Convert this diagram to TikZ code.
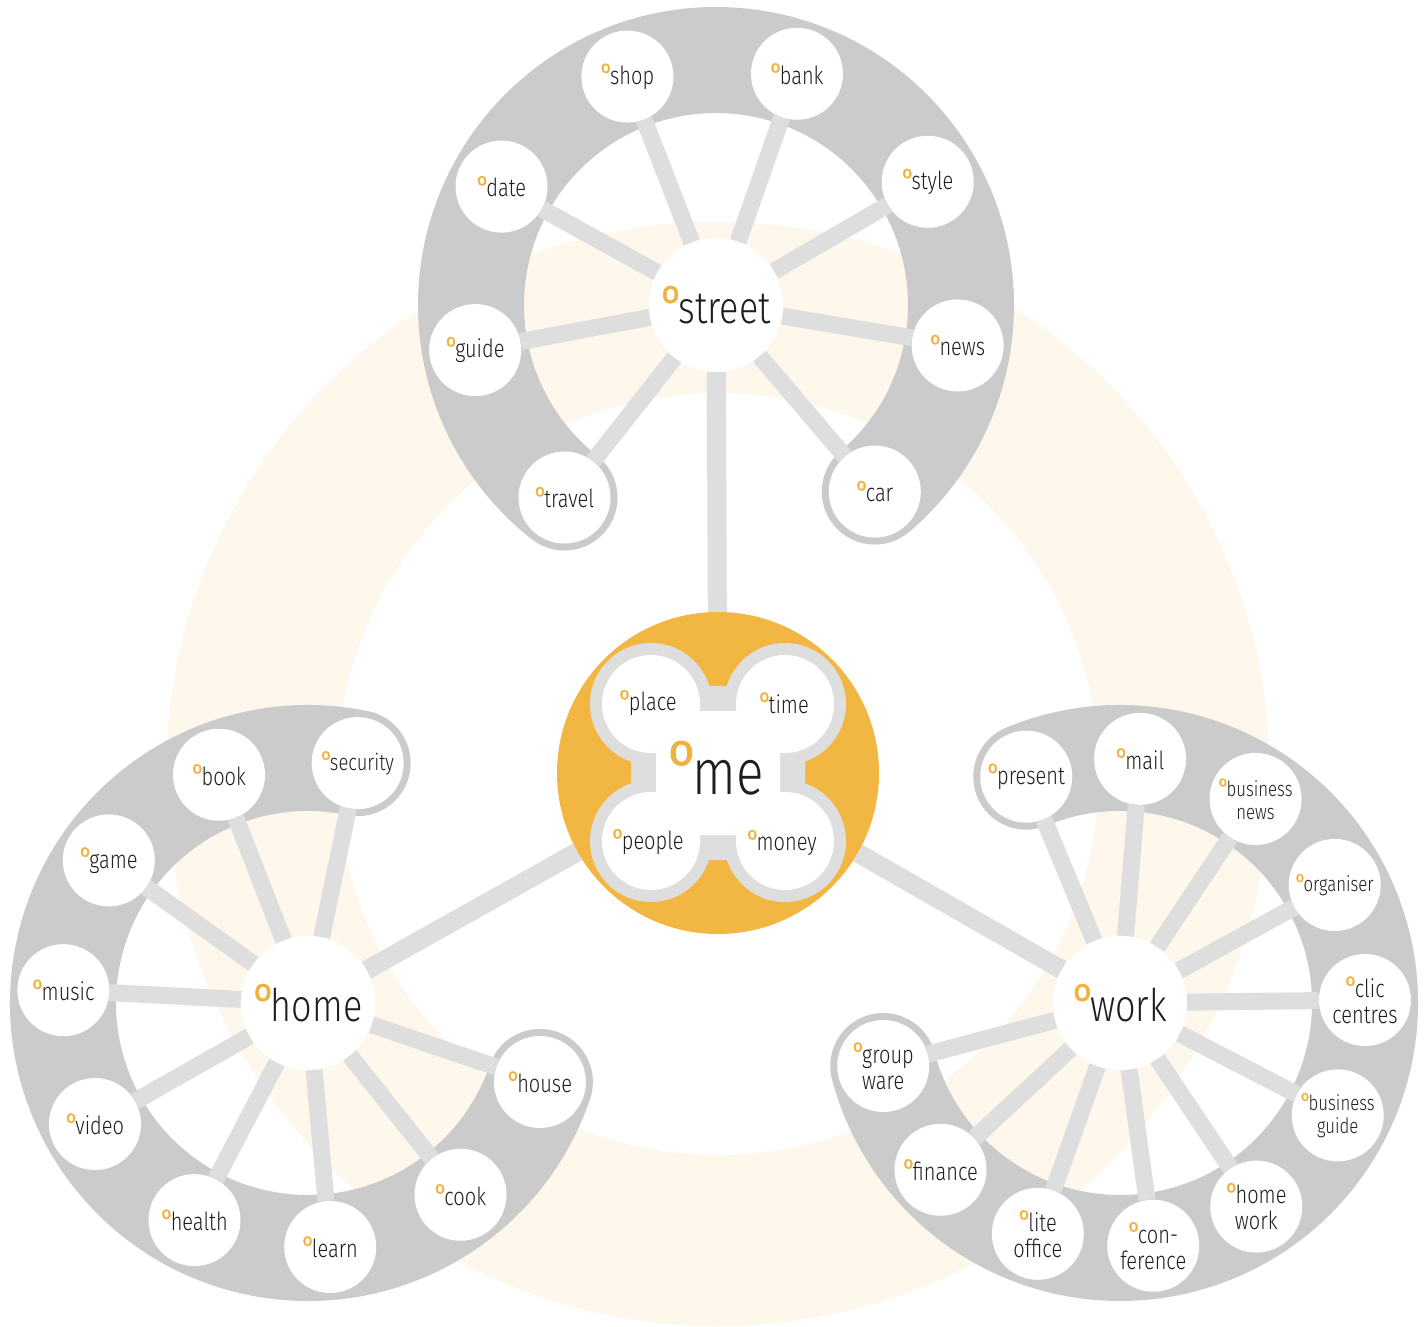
\documentclass[tikz,border=0pt]{standalone}
\usepackage{fontspec}
\usepackage{graphicx}
\setmainfont{Fira Sans Light}[FakeStretch=0.8]
\newfontfamily\ofont{Fira Sans}[FakeBold=1.5]
\definecolor{bandgray}{HTML}{CBCBCB}
\definecolor{spk}{HTML}{DEDEDE}
\definecolor{cream}{HTML}{FEF7EC}
\definecolor{orng}{HTML}{F2B643}
\definecolor{oc}{HTML}{F0B13D}
\definecolor{txt}{HTML}{1E1E1E}
\newcommand\mk{{\ofont\color{oc}\raisebox{0.46em}{\scalebox{0.7}{o}}}\kern-0.03em}
\tikzset{
  leaf/.style={circle, fill=white, minimum size=92pt, inner sep=0pt, align=center, text=txt,
    font=\fontsize{25}{26}\selectfont},
  smallleaf/.style={leaf, font=\fontsize{21}{23}\selectfont},
  hubnode/.style={circle, fill=white, minimum size=134pt, inner sep=0pt, text=txt,
    font=\fontsize{45}{45}\selectfont},
  spoke/.style={line width=17pt, draw=spk},
  melink/.style={line width=19pt, draw=spk},
  band/.style={line width=106pt, draw=bandgray, line cap=round},
  lobetext/.style={text=txt, font=\fontsize{25}{26}\selectfont},
}
\begin{document}
\begin{tikzpicture}[x=1pt,y=1pt]
\useasboundingbox (0,0) rectangle (1428,-1327);
\fill[white] (0,0) rectangle (1428,-1327);
% cream ring
\fill[cream, even odd rule] (718,-774) circle[radius=552] (718,-774) circle[radius=381];
% hubs
\coordinate (S) at (716,-305);
\coordinate (H) at (308,-1003);
\coordinate (W) at (1120,-1003);
\coordinate (M) at (718,-773);
% bands
\draw[band] ([shift={(-49.6:245)}]S) arc[start angle=-49.6, end angle=231.8, radius=245];
\draw[band] ([shift={(78.3:245)}]H) arc[start angle=78.3, end angle=341.2, radius=245];
\draw[band] ([shift={(112.5:245)}]W) arc[start angle=112.5, end angle=-165.1, radius=245];
% hub nodes
\node[hubnode] (street) at (S) {\mk street};
\node[hubnode] (home) at (H) {\mk home};
\node[hubnode] (work) at (W) {\mk work};
\node[circle, fill=orng, minimum size=322pt, inner sep=0pt] (me) at (M) {};
% street leaves
\node[leaf] (car) at ([shift={(-49.6:245)}]S) {\mk car};
\node[leaf] (news) at ([shift={(-9.5:245)}]S) {\mk news};
\node[leaf] (style) at ([shift={(30.2:245)}]S) {\mk style};
\node[leaf] (bank) at ([shift={(70.7:245)}]S) {\mk bank};
\node[leaf] (shop) at ([shift={(111.2:245)}]S) {\mk shop};
\node[leaf] (date) at ([shift={(151.1:245)}]S) {\mk date};
\node[leaf] (guide) at ([shift={(190.6:245)}]S) {\mk guide};
\node[leaf] (travel) at ([shift={(231.8:245)}]S) {\mk travel};
% home leaves
\node[leaf, font=\fontsize{23}{24}\selectfont] (security) at ([shift={(78.3:245)}]H) {\mk security};
\node[leaf] (book) at ([shift={(111.3:245)}]H) {\mk book};
\node[leaf] (game) at ([shift={(144.4:245)}]H) {\mk game};
\node[leaf] (music) at ([shift={(177:245)}]H) {\mk music};
\node[leaf] (video) at ([shift={(209.6:245)}]H) {\mk video};
\node[leaf] (health) at ([shift={(242.4:245)}]H) {\mk health};
\node[leaf] (learn) at ([shift={(275.2:245)}]H) {\mk learn};
\node[leaf] (cook) at ([shift={(308.5:245)}]H) {\mk cook};
\node[leaf] (house) at ([shift={(341.2:245)}]H) {\mk house};
% work leaves
\node[leaf] (present) at ([shift={(112.5:245)}]W) {\mk present};
\node[leaf] (mail) at ([shift={(85.3:245)}]W) {\mk mail};
\node[smallleaf] (bnews) at ([shift={(56.4:245)}]W) {\mk business\\news};
\node[smallleaf] (organiser) at ([shift={(28.8:245)}]W) {\mk organiser};
\node[leaf] (clic) at ([shift={(0.7:245)}]W) {\mk clic\\centres};
\node[smallleaf] (bguide) at ([shift={(-27.3:245)}]W) {\mk business\\guide};
\node[leaf] (homework) at ([shift={(-56.2:245)}]W) {\mk home\\work};
\node[leaf] (conf) at ([shift={(-82.2:245)}]W) {\mk con-\\ference};
\node[leaf] (lite) at ([shift={(-109.6:245)}]W) {\mk lite\\office};
\node[leaf] (finance) at ([shift={(-137.1:245)}]W) {\mk finance};
\node[leaf, align=left] (group) at ([shift={(-165.1:245)}]W) {\mk group\\[-1pt]\phantom{\mk}ware};
% spokes
\foreach \n in {car,news,style,bank,shop,date,guide,travel}
  \draw[spoke] (street) -- (\n);
\foreach \n in {security,book,game,music,video,health,learn,cook,house}
  \draw[spoke] (home) -- (\n);
\foreach \n in {present,mail,bnews,organiser,clic,bguide,homework,conf,lite,finance,group}
  \draw[spoke] (work) -- (\n);
\draw[melink] (me) -- (street);
\draw[melink] (me) -- (home);
\draw[melink] (me) -- (work);
% me lobes
\fill[spk] (651,-704) circle[radius=61] (785,-704) circle[radius=61]
  (651,-841) circle[radius=61] (785,-841) circle[radius=61]
  (631,-686) rectangle (805,-860);
\fill[white] (651,-704) circle[radius=49] (785,-704) circle[radius=49]
  (651,-841) circle[radius=49] (785,-841) circle[radius=49]
  (656,-711) rectangle (780,-835);
\node[lobetext] (place) at (648,-703) {\mk place};
\node[lobetext] (time) at (784,-703) {\mk time};
\node[lobetext] (people) at (648,-842) {\mk people};
\node[lobetext] (money) at (782,-843) {\mk money};
\node[text=txt, font=\fontsize{64}{64}\selectfont] (melabel) at (716,-768) {\mk me};
\end{tikzpicture}
\end{document}
